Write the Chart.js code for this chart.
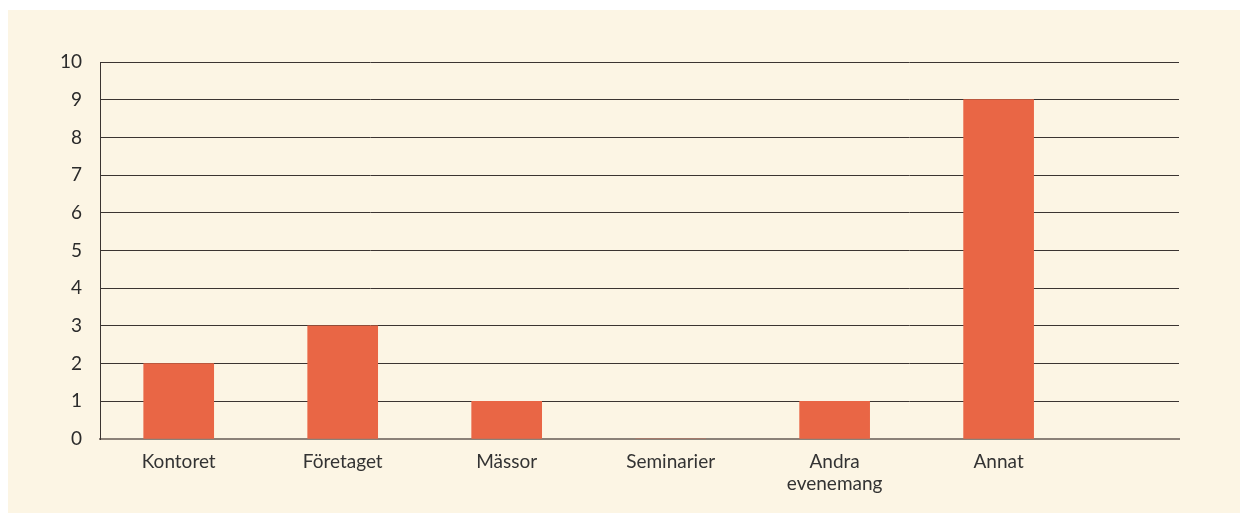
<!DOCTYPE html>
<html>
<head>
<meta charset="utf-8">
<script src="https://cdn.jsdelivr.net/npm/chart.js@4.4.1/dist/chart.umd.min.js"></script>
<style>
  html, body { margin: 0; padding: 0; background: #ffffff; }
  #wrap { position: absolute; left: 8px; top: 10px; width: 1232px; height: 503px; background: #fcf5e4; }
  canvas { display: block; }
</style>
</head>
<body>
<div id="wrap"><canvas id="c" width="1232" height="503"></canvas></div>
<script>
const categories = ['Kontoret', 'Företaget', 'Mässor', 'Seminarier', ['Andra', 'evenemang'], 'Annat'];
const values = [2, 3, 1, 0, 1, 9];
const yTicks = [0, 1, 2, 3, 4, 5, 6, 7, 8, 9, 10];

const points = values.map((v, i) => ({ x: i, y: v }));

new Chart(document.getElementById('c'), {
  type: 'bar',
  data: {
    datasets: [{
      data: points,
      backgroundColor: '#e96645',
      borderWidth: 0,
      barThickness: 70
    }]
  },
  options: {
    responsive: false,
    animation: false,
    layout: { padding: { top: 52, right: 61, bottom: 0, left: 0 } },
    plugins: { legend: { display: false }, tooltip: { enabled: false } },
    scales: {
      x: {
        type: 'linear',
        offset: false,
        min: -0.48,
        max: 6.1,
        afterBuildTicks: (s) => { s.ticks = categories.map((c, i) => ({ value: i })); },
        afterFit: (s) => { s.height = 74; },
        grid: { display: false, drawTicks: false },
        border: { display: true, color: '#8b8178', width: 2 },
        ticks: {
          autoSkip: false,
          maxRotation: 0,
          padding: 11,
          color: '#333333',
          font: { family: 'Lato', size: 19 },
          callback: (v) => categories[v]
        }
      },
      y: {
        min: 0,
        max: 10,
        afterBuildTicks: (s) => { s.ticks = yTicks.map(v => ({ value: v })); },
        afterFit: (s) => { s.width = 92; },
        grid: { color: '#3b3431', lineWidth: 1, drawTicks: false },
        border: { display: true, color: '#3b3431', width: 1 },
        ticks: {
          padding: 18,
          color: '#2b2b2b',
          font: { family: 'Lato', size: 19 }
        }
      }
    }
  }
});
</script>
</body>
</html>
